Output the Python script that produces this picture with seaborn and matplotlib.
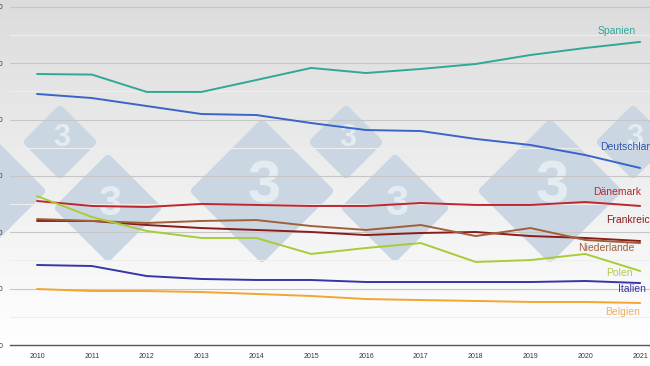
import matplotlib
matplotlib.use('Agg')
import matplotlib.pyplot as plt
from matplotlib.patches import Polygon
import numpy as np
import pandas as pd
import seaborn as sns

# breeding sows, thousand head
years = list(range(2010, 2022))
spanien = [2405, 2400, 2246, 2246, 2352, 2459, 2414, 2450, 2494, 2574, 2636, 2690]
deutschland = [2228, 2192, 2121, 2050, 2041, 1970, 1908, 1899, 1829, 1775, 1686, 1571]
daenemark = [1278, 1234, 1225, 1252, 1243, 1234, 1234, 1260, 1243, 1243, 1269, 1234]
frankreich = [1101, 1101, 1065, 1038, 1021, 1003, 976, 994, 1003, 967, 950, 923]
niederlande = [1118, 1101, 1083, 1101, 1109, 1056, 1021, 1065, 967, 1038, 932, 905]
polen = [1322, 1136, 1012, 950, 950, 808, 861, 905, 737, 754, 808, 657]
italien = [710, 701, 612, 586, 577, 577, 559, 559, 559, 559, 568, 550]
belgien = [497, 479, 479, 470, 453, 435, 408, 399, 391, 382, 382, 373]
y_ticks = [0, 500, 1000, 1500, 2000, 2500, 3000]

series = {
    'Spanien': spanien, 'Deutschland': deutschland, 'Dänemark': daenemark,
    'Frankreich': frankreich, 'Niederlande': niederlande, 'Polen': polen,
    'Italien': italien, 'Belgien': belgien,
}
colors = {
    'Spanien': '#2fa898', 'Deutschland': '#3a64c8', 'Dänemark': '#c0262e',
    'Frankreich': '#8a1c1c', 'Niederlande': '#a0603a', 'Polen': '#a8cc38',
    'Italien': '#3636a8', 'Belgien': '#f3a530',
}
label_colors = dict(colors, Polen='#b4cc48', Belgien='#f0b060', Deutschland='#2f57b0')
# label offsets in pixels from the last point
offsets = {
    'Spanien': (-43, 11), 'Deutschland': (-40, 21), 'Dänemark': (-47, 14),
    'Frankreich': (-34, 21), 'Niederlande': (-62, -5), 'Polen': (-34, -2),
    'Italien': (-22, -6), 'Belgien': (-35, -9),
}

df = pd.DataFrame([(land, yr, v) for land, vals in series.items()
                   for yr, v in zip(years, vals)], columns=['land', 'jahr', 'wert'])

sns.set_style('white')
plt.rcParams['font.family'] = ['Liberation Sans', 'DejaVu Sans']

fig = plt.figure(figsize=(6.5, 3.66), dpi=100)

# background gradient + watermark, in figure pixels
bg = fig.add_axes([0, 0, 1, 1], zorder=0)
grad = np.linspace(0, 1, 256).reshape(-1, 1)
bg_cmap = matplotlib.colors.LinearSegmentedColormap.from_list('bg', ['#dcdcdc', '#ffffff'])
bg.imshow(grad, aspect='auto', cmap=bg_cmap, extent=[0, 650, 345, 0])
bg.set_xlim(0, 650)
bg.set_ylim(366, 0)
bg.axis('off')

# (cx, cy, half diagonal, digit size)
marks = [(-26, 191, 71, 43), (262, 191, 71, 43), (550, 191, 71, 43),
         (108, 208, 53, 30), (395, 208, 53, 30),
         (60, 142, 36, 22), (346, 142, 36, 22), (633, 142, 36, 22)]
for cx, cy, h, fs in marks:
    d = h - 4
    bg.add_patch(Polygon([(cx, cy - d), (cx + d, cy), (cx, cy + d), (cx - d, cy)],
                         closed=True, facecolor='#cad7e3', edgecolor='#cad7e3',
                         linewidth=6, joinstyle='round'))
    if cx > 0:
        bg.text(cx + 2, cy - 4, '3', fontsize=fs, fontweight='bold',
                color='#e4ebf1', ha='center', va='center')

ax = fig.add_axes([10 / 650, 21 / 366, 640 / 650, 345 / 366], zorder=1)
ax.patch.set_alpha(0)

for v in np.arange(250, 3001, 500):
    ax.axhline(v, color='#eeeeee', lw=0.8, zorder=0.5)
for v in y_ticks[1:]:
    ax.axhline(v, color='#c6c6c6', lw=0.8, zorder=0.6)

sns.lineplot(data=df, x='jahr', y='wert', hue='land', palette=colors,
             linewidth=1.4, legend=False, ax=ax, zorder=3)

for land, vals in series.items():
    dx, dy = offsets[land]
    ax.annotate(land, xy=(years[-1], vals[-1]), xytext=(dx, dy),
                textcoords='offset pixels', ha='left', va='center',
                fontsize=7.5, color=label_colors[land], annotation_clip=False)

ax.set_xlim(2009.507, 2021.18)
ax.set_ylim(0, 3062)
ax.set_xticks(years)
ax.set_xticklabels([str(y) for y in years])
ax.set_yticks(y_ticks)
ax.set_xlabel('')
ax.set_ylabel('')
ax.tick_params(axis='both', length=0, labelsize=5, colors='#333333')
ax.tick_params(axis='y', pad=5)
ax.tick_params(axis='x', pad=6)
for s in ['top', 'right', 'left']:
    ax.spines[s].set_visible(False)
ax.spines['bottom'].set_color('#555555')
ax.spines['bottom'].set_linewidth(1.0)

fig.savefig('out.png', dpi=100)
